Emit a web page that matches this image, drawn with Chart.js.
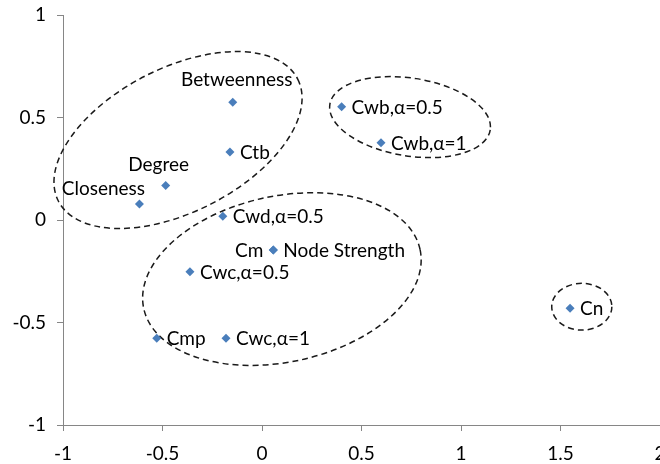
<!DOCTYPE html>
<html>
<head>
<meta charset="utf-8">
<script src="https://cdn.jsdelivr.net/npm/chart.js@4"></script>
<style>
  body { margin: 0; overflow: hidden; background: #fff; }
  #wrap { width: 700px; height: 464px; }
</style>
</head>
<body>
<div id="wrap"><canvas id="scatter-chart" width="700" height="464"></canvas></div>
<script>
// measure names and their coordinates
const names = ['Betweenness', 'Ctb', 'Degree', 'Closeness', 'Cwd,α=0.5', 'Cm', 'Node Strength',
    'Cwc,α=0.5', 'Cmp', 'Cwc,α=1', 'Cwb,α=0.5', 'Cwb,α=1', 'Cn'];
const xValues = [-0.147, -0.161, -0.484, -0.616, -0.197, 0.057, 0.057, -0.362, -0.529, -0.181, 0.40, 0.598, 1.548];
const yValues = [0.574, 0.332, 0.168, 0.078, 0.018, -0.146, -0.146, -0.252, -0.577, -0.577, 0.553, 0.377, -0.431];

// dashed groups: centre in data units, half-axes in axis units, tilt in degrees
const groupCx = [-0.422, 0.10, 0.744, 1.607];
const groupCy = [0.39, -0.288, 0.502, -0.423];
const groupRx = [0.675, 0.71, 0.408, 0.151];
const groupRy = [0.351, 0.405, 0.19, 0.114];
const groupTilt = [-27, -12, 9, 0];

const xTicks = [-1, -0.5, 0, 0.5, 1, 1.5, 2];
const yTicks = [-1, -0.5, 0, 0.5, 1];

const FONT = '19px Lato';
const AXIS_GREY = '#868686';

// where each label sits relative to its point (pixels)
const labelPlace = {
    'Betweenness': { align: 'center', dx: 4, dy: -23 },
    'Degree': { align: 'center', dx: -7, dy: -22 },
    'Closeness': { align: 'center', dx: -36, dy: -16 },
    'Cm': { align: 'right', dx: -10, dy: 0 }
};

const groupsPlugin = {
    id: 'groups',
    beforeDatasetsDraw(chart) {
        const ctx = chart.ctx;
        const xs = chart.scales.x, ys = chart.scales.y;
        const pxX = Math.abs(xs.getPixelForValue(1) - xs.getPixelForValue(0));
        const pxY = Math.abs(ys.getPixelForValue(1) - ys.getPixelForValue(0));
        ctx.save();
        ctx.strokeStyle = '#1a1a1a';
        ctx.lineWidth = 1.5;
        ctx.setLineDash([6, 4]);
        groupCx.forEach((cx, i) => {
            ctx.beginPath();
            ctx.ellipse(xs.getPixelForValue(cx), ys.getPixelForValue(groupCy[i]),
                groupRx[i] * pxX, groupRy[i] * pxY, groupTilt[i] * Math.PI / 180, 0, Math.PI * 2);
            ctx.stroke();
        });
        ctx.restore();
    }
};

const labelsPlugin = {
    id: 'pointLabels',
    afterDatasetsDraw(chart) {
        const ctx = chart.ctx;
        const meta = chart.getDatasetMeta(0);
        ctx.save();
        ctx.font = FONT;
        ctx.fillStyle = '#000';
        ctx.textBaseline = 'alphabetic';
        meta.data.forEach((pt, i) => {
            const name = names[i];
            const p = labelPlace[name] || { align: 'left', dx: 10, dy: 0 };
            ctx.textAlign = p.align;
            ctx.fillText(name, pt.x + p.dx, pt.y + p.dy + 7);
        });
        ctx.restore();
    }
};

const ctx = document.getElementById('scatter-chart').getContext('2d');

new Chart(ctx, {
    type: 'scatter',
    data: {
        datasets: [{
            data: xValues.map((x, i) => ({ x: x, y: yValues[i] })),
            pointStyle: 'rectRot',
            pointRadius: 4.5,
            pointHoverRadius: 4.5,
            backgroundColor: '#4a7ebb',
            borderColor: '#4a7ebb',
            borderWidth: 0
        }]
    },
    options: {
        responsive: false,
        animation: false,
        events: [],
        layout: { padding: { top: 15, right: 40, left: 0, bottom: 0 } },
        plugins: {
            legend: { display: false },
            tooltip: { enabled: false }
        },
        scales: {
            x: {
                type: 'linear',
                min: -1,
                max: 2,
                afterBuildTicks: axis => { axis.ticks = xTicks.map(v => ({ value: v })); },
                afterFit: axis => { axis.height = 39; },
                ticks: {
                    font: { family: 'Lato', size: 19 }, color: '#000', padding: 11,
                    maxRotation: 0, autoSkip: false, callback: v => String(v)
                },
                grid: { drawOnChartArea: false, tickLength: 6, color: AXIS_GREY },
                border: { color: AXIS_GREY }
            },
            y: {
                type: 'linear',
                min: -1,
                max: 1,
                afterBuildTicks: axis => { axis.ticks = yTicks.map(v => ({ value: v })); },
                afterFit: axis => {
                    axis.width = 63;
                    axis.paddingTop = 0;
                    axis.paddingBottom = 0;
                },
                ticks: {
                    font: { family: 'Lato', size: 19 }, color: '#000', padding: 11,
                    autoSkip: false, callback: v => String(v)
                },
                grid: { drawOnChartArea: false, tickLength: 6, color: AXIS_GREY },
                border: { color: AXIS_GREY }
            }
        }
    },
    plugins: [groupsPlugin, labelsPlugin]
});
</script>
</body>
</html>
